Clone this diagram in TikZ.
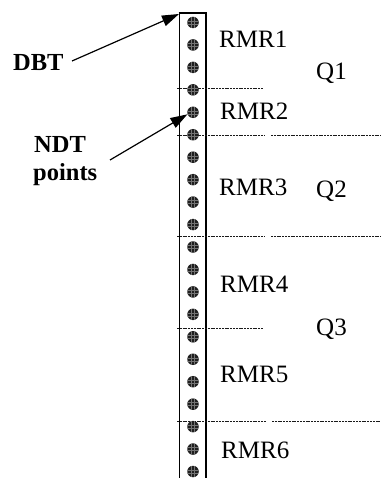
\documentclass[tikz,border=0pt]{standalone}
\usepackage{fontspec}
\setmainfont{Liberation Serif}
\usetikzlibrary{arrows.meta}
\begin{document}
\begin{tikzpicture}[x=1pt,y=-1pt,
  lbl/.style={inner sep=0pt,anchor=base west,font=\fontsize{25}{27}\selectfont},
  blbl/.style={inner sep=0pt,anchor=base west,font=\fontsize{24.5}{27}\selectfont\bfseries},
  ptdot/.style={circle,minimum size=11.5pt,inner sep=0pt,fill=black!88,
     path picture={\draw[black!55,line width=0.35pt]
       ([xshift=-1.5pt]path picture bounding box.north) -- ([xshift=-1.5pt]path picture bounding box.south)
       ([xshift=1.5pt]path picture bounding box.north) -- ([xshift=1.5pt]path picture bounding box.south)
       ([yshift=-1.5pt]path picture bounding box.west) -- ([yshift=-1.5pt]path picture bounding box.east)
       ([yshift=1.5pt]path picture bounding box.west) -- ([yshift=1.5pt]path picture bounding box.east);}},
  sep/.style={line width=1pt,black!90,dash pattern=on 2pt off 0.8pt},
  arr/.style={line width=1.2pt,-{Triangle[length=17pt,width=11pt]}}
]
\useasboundingbox (0,0) rectangle (381,478);
% column
\draw[line width=1pt] (179,478) -- (179,13);
\draw[line width=1.5pt] (178.5,13) -- (206,13);
\draw[line width=2pt] (206,12.3) -- (206,478);
\coordinate (boxtl) at (179,14);
% separators
\draw[sep] (177,89) -- (263,89);
\draw[sep] (177,136) -- (265,136);
\draw[sep] (271,136) -- (381,136);
\draw[sep] (177,236) -- (265,236);
\draw[sep] (271,236) -- (381,236);
\draw[sep] (177,328) -- (263,328);
\draw[sep] (177,421) -- (266,421);
\draw[sep] (272,421) -- (381,421);
% dots
\foreach \i in {1,...,21}{
  \node[ptdot] (d\i) at (193,{22.5+(\i-1)*22.45}) {};
}
% labels
\node[lbl] (rmr1) at (219,48) {RMR1};
\node[lbl] (rmr2) at (220,120) {RMR2};
\node[lbl] (rmr3) at (219,195) {RMR3};
\node[lbl] (rmr4) at (220,292) {RMR4};
\node[lbl] (rmr5) at (220,382) {RMR5};
\node[lbl] (rmr6) at (221,458) {RMR6};
\node[lbl] (q1) at (316,80) {Q1};
\node[lbl] (q2) at (316,197) {Q2};
\node[lbl] (q3) at (316,335) {Q3};
\node[blbl] (dbt) at (13,71) {DBT};
\node[blbl] (ndt) at (34,153) {NDT};
\node[blbl] (pts) at (33,180) {points};
% arrows
\coordinate (dbtout) at (72,61);
\coordinate (ndtout) at (110,160);
\draw[arr] (dbtout) -- (boxtl);
\draw[arr] (ndtout) -- (d5.200);
\end{tikzpicture}
\end{document}
